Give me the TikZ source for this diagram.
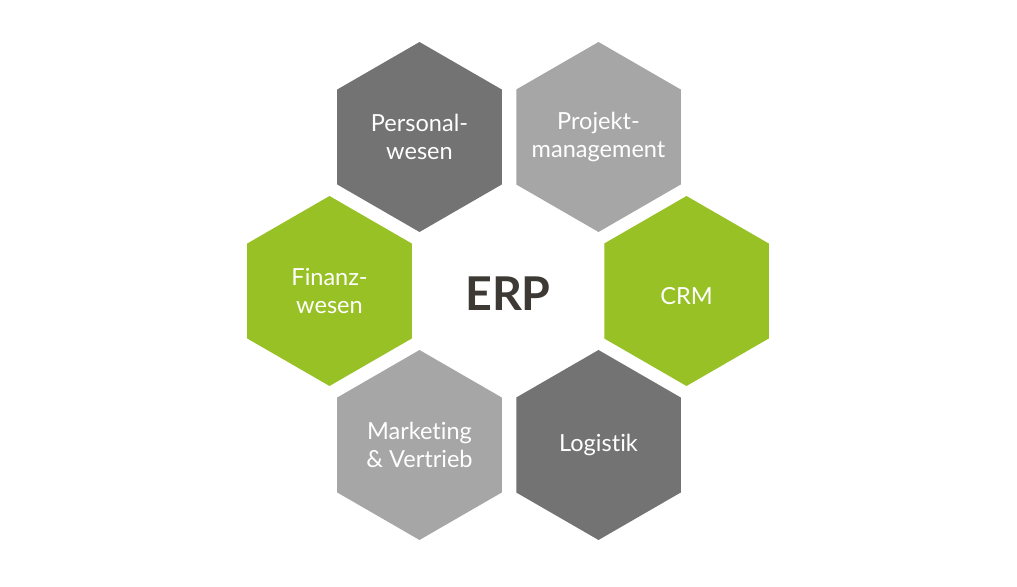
\documentclass[tikz,border=0pt]{standalone}
\usepackage{fontspec}
\setmainfont{Lato}[Ligatures=NoCommon]
\usetikzlibrary{shapes.geometric}
\definecolor{hexdark}{HTML}{737373}
\definecolor{hexlight}{HTML}{A6A6A6}
\definecolor{hexgreen}{HTML}{97C125}
\definecolor{erptext}{HTML}{3D3935}
\newcommand{\drawHex}[5][]{ % #1: text options, #2: name, #3: position, #4: colour, #5: text
    \node[hexagon, fill=#4] (#2) at (#3) {};
    \node[hextext, #1] (#2-text) at (#2.center) {#5};
}

\begin{document}
\begin{tikzpicture}[
    x=0.02cm, y=-0.02cm,
    hexagon/.style={regular polygon, regular polygon sides=6, shape border rotate=30,
        minimum size=3.8cm, inner sep=0pt},
    hextext/.style={text=white, align=center, inner sep=0pt,
        font=\fontsize{13.4}{16}\selectfont}
]
    \useasboundingbox[fill=white] (0,0) rectangle (1017,587);

    % Hexagons around the centre
    \drawHex{personal}{419.5,137}{hexdark}{Personal-\\wesen};
    \drawHex{projekt}{598.5,137}{hexlight}{Projekt-\\management};
    \drawHex{finanz}{329.5,291}{hexgreen}{Finanz-\\wesen};
    \drawHex[yshift=-0.1cm]{crm}{686.5,291}{hexgreen}{CRM};
    \drawHex{marketing}{419.5,445}{hexlight}{Marketing\\\& Vertrieb};
    \drawHex{logistik}{598.5,445}{hexdark}{Logistik};

    % Centre label
    \node[text=erptext, font=\fontsize{26.5}{30}\selectfont\bfseries] (erp) at (508,294) {ERP};

\end{tikzpicture}
\end{document}
